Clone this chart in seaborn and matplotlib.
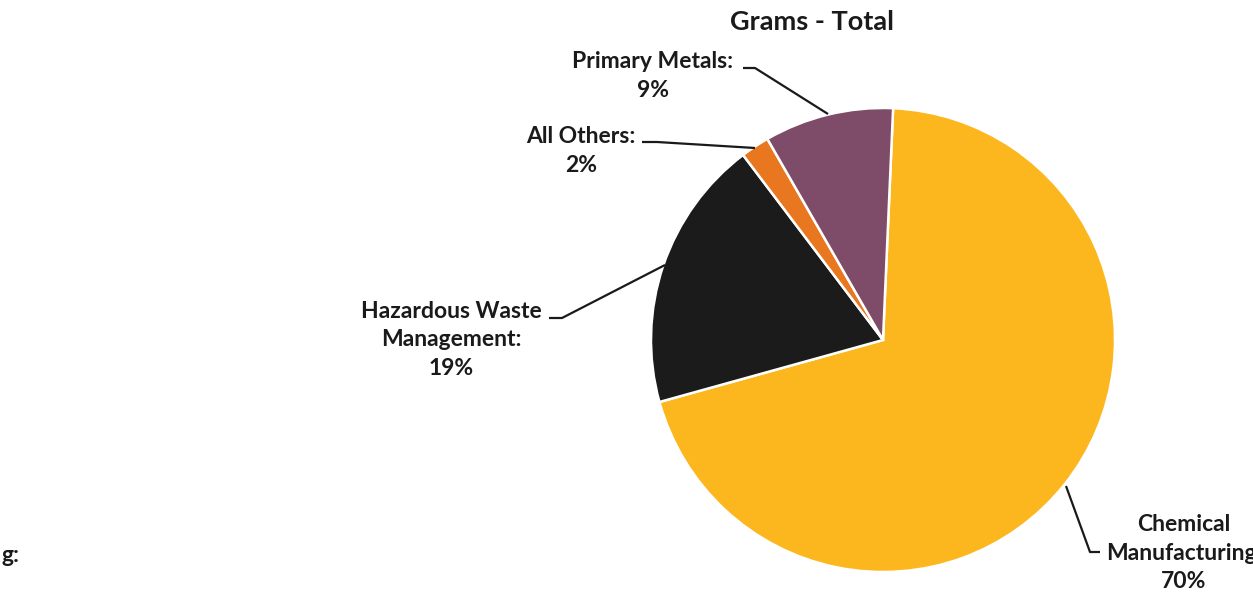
import matplotlib
matplotlib.use('Agg')
import matplotlib.pyplot as plt
import seaborn as sns

# 数据
categories = ['Chemical\nManufacturing:', 'Hazardous Waste\nManagement:', 'All Others:', 'Primary Metals:']
shares = [70.0, 19.0, 2.0, 9.0]
pct_labels = ['70%', '19%', '2%', '9%']
colors = ['#FCB61E', '#1B1B1B', '#E8771F', '#7E4B69']
title = 'Grams - Total'

sns.set_theme(style='white')
plt.rcParams['font.family'] = ['Lato', 'DejaVu Sans']

W, H = 1253, 592
fig = plt.figure(figsize=(W / 100, H / 100), dpi=100)
ax = fig.add_axes([0, 0, 1, 1])

def py(y):
    # 像素坐标(上到下) -> 数据坐标
    return H - y

cx, cy, r = 883, 340, 232
ax.pie(shares, colors=colors, center=(cx, py(cy)), radius=r,
       startangle=87.5, counterclock=False,
       wedgeprops=dict(edgecolor='white', linewidth=1.8))
# pie 会重设坐标范围, 之后再设
ax.set_xlim(0, W)
ax.set_ylim(0, H)
ax.set_aspect('equal')
ax.axis('off')

# 标签位置与引导线
label_pos = [(1184, 553), (451, 340), (581, 151), (653, 76)]
leaders = [
    [(1066, 486), (1090, 552), (1100, 552)],
    [(549, 318), (562, 318), (665, 265)],
    [(642, 142), (657, 142), (755, 148)],
    [(743, 68), (755, 68), (828, 114)],
]
for cat, pct, (lx, ly), pts in zip(categories, pct_labels, label_pos, leaders):
    ax.text(lx, py(ly), f'{cat}\n{pct}', ha='center', va='center',
            fontsize=16.5, fontweight='bold', color='#1a1a1a', linespacing=1.42)
    ax.plot([p[0] for p in pts], [py(p[1]) for p in pts], color='#1a1a1a', lw=1.6,
            solid_capstyle='butt')

ax.text(812, py(22), title, ha='center', va='center', fontsize=19.5,
        fontweight='bold', color='#1a1a1a')

# 左下角被截断的标签
ax.text(2, py(556), 'g:', ha='left', va='center', fontsize=16.5,
        fontweight='bold', color='#1a1a1a')

fig.savefig('out.png', dpi=100, facecolor='white')
